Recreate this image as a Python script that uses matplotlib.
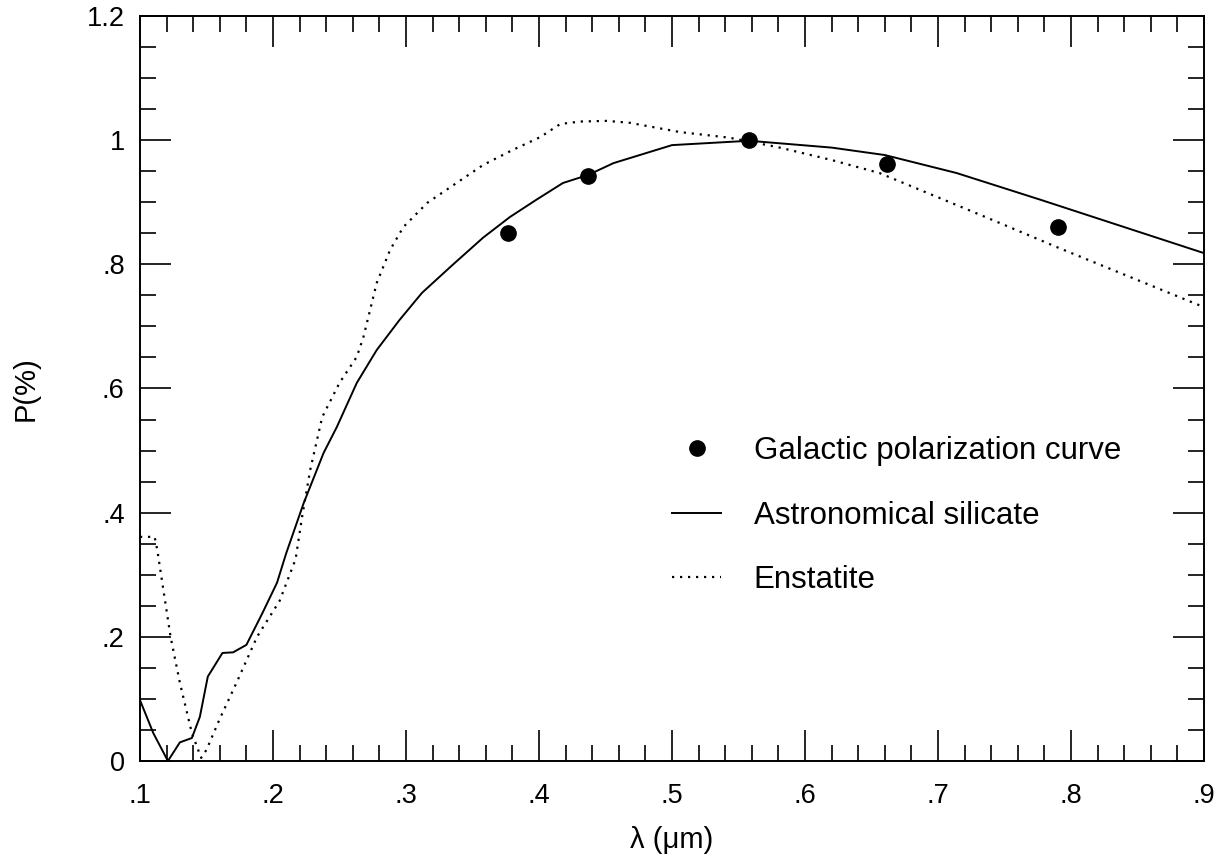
import numpy as np
import matplotlib.pyplot as plt
from matplotlib.ticker import MultipleLocator, FuncFormatter

plt.rcParams['font.family'] = ['Liberation Sans', 'DejaVu Sans']

# observed galactic polarization (normalised)
obs_wl = [0.377, 0.437, 0.558, 0.662, 0.790]
obs_p = [0.850, 0.942, 1.000, 0.962, 0.860]

# astronomical silicate model
sil_wl = [0.100, 0.110, 0.121, 0.130, 0.139, 0.145, 0.151, 0.162, 0.170, 0.180,
          0.192, 0.203, 0.210, 0.223, 0.238, 0.248, 0.263, 0.278, 0.295, 0.312,
          0.335, 0.358, 0.378, 0.398, 0.418, 0.437, 0.456, 0.500, 0.558, 0.620,
          0.660, 0.714, 0.777, 0.900]
sil_p = [0.098, 0.045, 0.000, 0.030, 0.037, 0.071, 0.136, 0.174, 0.175, 0.187,
         0.238, 0.287, 0.335, 0.415, 0.496, 0.538, 0.609, 0.662, 0.710, 0.754,
         0.799, 0.843, 0.876, 0.904, 0.931, 0.944, 0.963, 0.992, 0.999, 0.988,
         0.976, 0.947, 0.904, 0.818]

# enstatite model
ens_wl = [0.100, 0.111, 0.113, 0.123, 0.130, 0.139, 0.146, 0.150, 0.160, 0.173,
          0.188, 0.205, 0.217, 0.222, 0.228, 0.237, 0.250, 0.263, 0.268, 0.278,
          0.288, 0.298, 0.316, 0.338, 0.358, 0.380, 0.401, 0.416, 0.431, 0.451,
          0.468, 0.506, 0.543, 0.579, 0.620, 0.656, 0.719, 0.747, 0.789, 0.900]
ens_p = [0.361, 0.361, 0.340, 0.200, 0.126, 0.045, 0.005, 0.018, 0.068, 0.128,
         0.200, 0.258, 0.325, 0.395, 0.469, 0.554, 0.609, 0.651, 0.683, 0.770,
         0.823, 0.860, 0.899, 0.931, 0.960, 0.984, 1.005, 1.026, 1.030, 1.031,
         1.028, 1.013, 1.004, 0.989, 0.968, 0.947, 0.891, 0.866, 0.828, 0.731]

fig = plt.figure(figsize=(12.29, 8.59), dpi=100)
ax = fig.add_axes([0.1139, 0.1141, 0.8658, 0.8673])

ax.plot(obs_wl, obs_p, 'o', color='black', markersize=11, label='Galactic polarization curve')
ax.plot(sil_wl, sil_p, '-', color='black', lw=1.4, label='Astronomical silicate')
ax.plot(ens_wl, ens_p, color='black', lw=1.6, linestyle=(0, (1, 2.6)), label='Enstatite')

ax.set_xlim(0.1, 0.9)
ax.set_ylim(0, 1.2)

ax.xaxis.set_major_locator(MultipleLocator(0.1))
ax.xaxis.set_minor_locator(MultipleLocator(0.02))
ax.yaxis.set_major_locator(MultipleLocator(0.2))
ax.yaxis.set_minor_locator(MultipleLocator(0.05))


def short_fmt(v, pos):
    s = '%.1f' % v
    if s == '0.0':
        return '0'
    if s == '1.0':
        return '1'
    if s.startswith('0.'):
        return s[1:]
    return s


ax.xaxis.set_major_formatter(FuncFormatter(short_fmt))
ax.yaxis.set_major_formatter(FuncFormatter(short_fmt))

ax.tick_params(which='both', direction='in', top=True, right=True, width=1.2, labelsize=19.5)
ax.tick_params(which='major', length=22)
ax.tick_params(which='minor', length=11.5)
ax.tick_params(axis='x', which='major', pad=16)
ax.tick_params(axis='y', which='major', pad=11)
for sp in ax.spines.values():
    sp.set_linewidth(1.4)

ax.set_xlabel('λ (μm)', fontsize=21, labelpad=12)
ax.set_ylabel('P(%)', fontsize=21, labelpad=34)

ax.legend(loc='upper left', bbox_to_anchor=(0.5003, 0.436), frameon=False,
          fontsize=22.5, handlelength=1.55, handletextpad=1.05, labelspacing=1.1,
          borderpad=0, borderaxespad=0, numpoints=1)

fig.savefig('out.png', dpi=100)
